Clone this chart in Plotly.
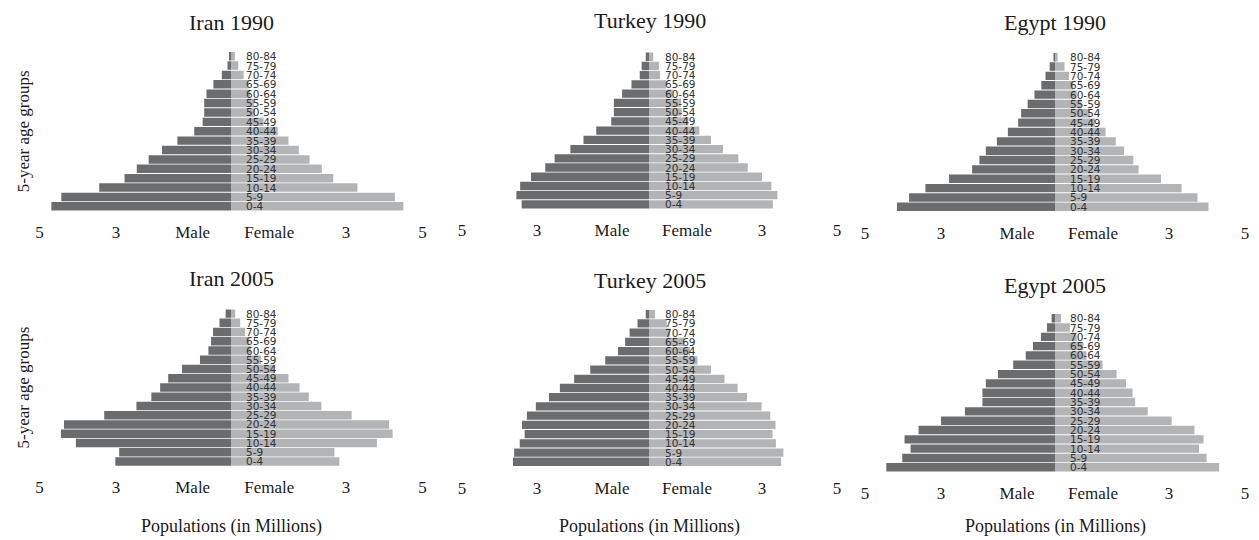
import plotly.graph_objects as go

W, H = 1259, 540

age_groups = ["0-4", "5-9", "10-14", "15-19", "20-24", "25-29", "30-34", "35-39",
              "40-44", "45-49", "50-54", "55-59", "60-64", "65-69", "70-74", "75-79", "80-84"]

iran_1990_male = [4.69, 4.43, 3.44, 2.78, 2.46, 2.15, 1.80, 1.40, 0.96, 0.74, 0.70, 0.70, 0.64, 0.46, 0.24, 0.09, 0.05]
iran_1990_female = [4.50, 4.28, 3.30, 2.67, 2.37, 2.05, 1.77, 1.50, 1.22, 0.85, 0.62, 0.60, 0.50, 0.45, 0.33, 0.19, 0.10]
turkey_1990_male = [3.41, 3.55, 3.45, 3.16, 2.78, 2.53, 2.11, 1.76, 1.42, 1.02, 0.95, 0.95, 0.73, 0.48, 0.26, 0.21, 0.10]
turkey_1990_female = [3.29, 3.41, 3.25, 3.00, 2.62, 2.37, 1.96, 1.64, 1.33, 1.04, 0.86, 0.84, 0.62, 0.44, 0.28, 0.25, 0.10]
egypt_1990_male = [4.16, 3.84, 3.41, 2.79, 2.18, 1.99, 1.82, 1.53, 1.24, 0.97, 0.89, 0.72, 0.54, 0.36, 0.25, 0.14, 0.04]
egypt_1990_female = [4.04, 3.75, 3.33, 2.79, 2.20, 2.06, 1.82, 1.60, 1.33, 1.05, 0.92, 0.70, 0.57, 0.48, 0.37, 0.25, 0.07]
iran_2005_male = [3.02, 2.92, 4.05, 4.44, 4.36, 3.31, 2.47, 2.08, 1.85, 1.64, 1.28, 0.81, 0.59, 0.52, 0.47, 0.30, 0.14]
iran_2005_female = [2.83, 2.70, 3.81, 4.22, 4.13, 3.15, 2.36, 2.03, 1.79, 1.50, 1.13, 0.78, 0.52, 0.48, 0.37, 0.24, 0.11]
turkey_2005_male = [3.64, 3.61, 3.46, 3.33, 3.40, 3.27, 3.03, 2.68, 2.39, 2.01, 1.58, 1.18, 0.84, 0.65, 0.53, 0.32, 0.10]
turkey_2005_female = [3.51, 3.57, 3.37, 3.28, 3.36, 3.22, 2.99, 2.60, 2.35, 2.00, 1.64, 1.28, 1.08, 0.92, 0.55, 0.46, 0.15]
egypt_2005_male = [4.44, 4.02, 3.80, 3.96, 3.59, 3.00, 2.37, 1.91, 1.91, 1.82, 1.50, 1.10, 0.77, 0.58, 0.37, 0.21, 0.09]
egypt_2005_female = [4.32, 3.99, 3.79, 3.91, 3.67, 3.07, 2.44, 2.11, 2.04, 1.87, 1.62, 1.25, 0.83, 0.75, 0.57, 0.39, 0.16]

tick_vals = [-5, -3, -1, 1, 3, 5]
tick_text = ["5", "3", "Male", "Female", "3", "5"]

panels = [
    ("Iran 1990", iran_1990_male, iran_1990_female),
    ("Turkey 1990", turkey_1990_male, turkey_1990_female),
    ("Egypt 1990", egypt_1990_male, egypt_1990_female),
    ("Iran 2005", iran_2005_male, iran_2005_female),
    ("Turkey 2005", turkey_2005_male, turkey_2005_female),
    ("Egypt 2005", egypt_2005_male, egypt_2005_female),
]

# layout geometry in screen pixels
col_center = [231, 649.5, 1055]
col_scale = [38.3, 37.5, 38.0]
row_px = [(54, 208.5), (54.5, 206.7), (55, 209), (311.3, 463.7), (312, 464), (316, 469.5)]
title_y = [22, 21, 22, 278, 280, 285]
R = 5.3


def px(x):
    return x / W


def py(y):
    return 1 - y / H


DARK = "#6b6c6e"
LIGHT = "#b2b4b6"
SERIF = "Liberation Serif, Times New Roman, serif"
SANS = "DejaVu Sans, Arial, sans-serif"

fig = go.Figure()
annotations = []
layout = {}

for i, (title, male, female) in enumerate(panels):
    c = i % 3
    n = i + 1
    xa = "x" if n == 1 else f"x{n}"
    ya = "y" if n == 1 else f"y{n}"
    fig.add_trace(go.Bar(y=age_groups, x=[-v for v in male], orientation="h",
                         marker=dict(color=DARK, line=dict(width=0)), xaxis=xa, yaxis=ya,
                         showlegend=False, hoverinfo="skip"))
    fig.add_trace(go.Bar(y=age_groups, x=female, orientation="h",
                         marker=dict(color=LIGHT, line=dict(width=0)), xaxis=xa, yaxis=ya,
                         showlegend=False, hoverinfo="skip"))
    cx, s = col_center[c], col_scale[c]
    x0, x1 = px(cx - R * s), px(cx + R * s)
    ytop, ybot = row_px[i]
    h = (ybot - ytop) / 16
    d0, d1 = py(ybot + h / 2), py(ytop - h / 2)
    xkey = "xaxis" if n == 1 else f"xaxis{n}"
    ykey = "yaxis" if n == 1 else f"yaxis{n}"
    layout[xkey] = dict(domain=[max(0, x0), min(1, x1)], anchor=ya, range=[-R, R], tickvals=tick_vals,
                        ticktext=tick_text, ticks="", showgrid=False, zeroline=False,
                        showline=False, ticklabelstandoff=7,
                        tickfont=dict(family=SERIF, size=17, color="#1a1a1a"), fixedrange=True)
    layout[ykey] = dict(domain=[d0, d1], anchor=xa, type="category", categoryorder="array",
                        categoryarray=age_groups, showticklabels=False, ticks="",
                        showgrid=False, zeroline=False, showline=False, fixedrange=True)
    annotations.append(dict(text=title, x=px(cx), y=py(title_y[i]), xref="paper", yref="paper",
                            xanchor="center", yanchor="middle", showarrow=False,
                            font=dict(family=SERIF, size=22, color="#1a1a1a")))
    for ag in age_groups:
        annotations.append(dict(text=ag, x=0, y=ag, xref=xa, yref=ya, xanchor="left",
                                yanchor="middle", xshift=14, showarrow=False, borderpad=0,
                                font=dict(family=SANS, size=10.5, color="#333333")))
    if c == 0:
        annotations.append(dict(text="5-year age groups", x=px(23), y=py((ytop + ybot) / 2),
                                xref="paper", yref="paper", xanchor="center", yanchor="middle",
                                textangle=-90, showarrow=False,
                                font=dict(family=SERIF, size=17, color="#1a1a1a")))
    if i >= 3:
        annotations.append(dict(text="Populations (in Millions)", x=px(cx), y=py(526),
                                xref="paper", yref="paper", xanchor="center", yanchor="middle",
                                showarrow=False, font=dict(family=SERIF, size=18, color="#1a1a1a")))

fig.update_layout(width=W, height=H, margin=dict(l=0, r=0, t=0, b=0),
                  paper_bgcolor="white", plot_bgcolor="white", barmode="relative",
                  bargap=0.1, annotations=annotations, **layout)

# remove the default page margin so the figure fills the 1259x540 window exactly
fig.write_html("out.html", config={"displayModeBar": False},
               post_script="document.body.style.margin='0';document.body.style.overflow='hidden';")
